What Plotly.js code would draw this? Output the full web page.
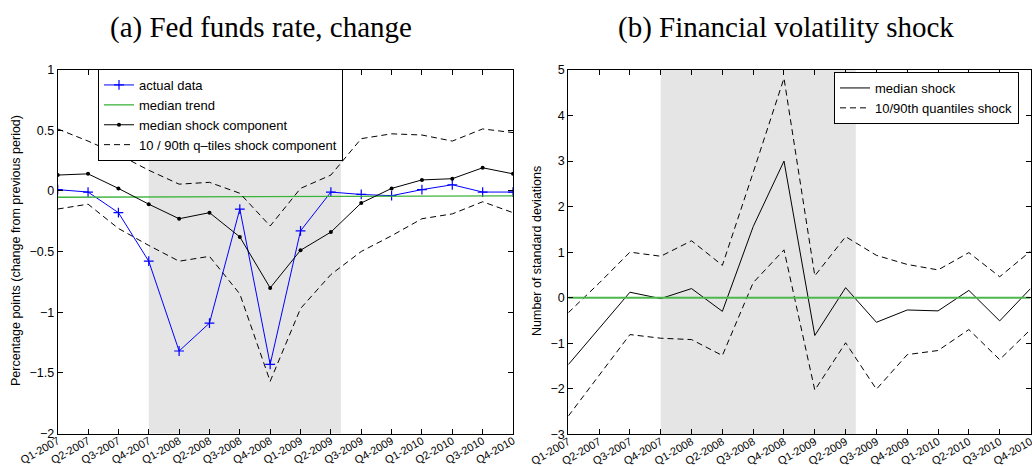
<!DOCTYPE html>
<html>
<head>
<meta charset="utf-8">
<script src="https://cdn.plot.ly/plotly-3.0.1.min.js"></script>
<style>html,body{margin:0;padding:0;background:#fff;}#chart{width:1032px;height:466px;}</style>
</head>
<body>
<div id="chart"></div>
<script>
// ---------- data ----------
var quarters = ["Q1-2007","Q2-2007","Q3-2007","Q4-2007","Q1-2008","Q2-2008","Q3-2008","Q4-2008",
                "Q1-2009","Q2-2009","Q3-2009","Q4-2009","Q1-2010","Q2-2010","Q3-2010","Q4-2010"];
var quarterIndex = [0,1,2,3,4,5,6,7,8,9,10,11,12,13,14,15];

// (a) Fed funds rate, change
var actualData   = [0.01,-0.01,-0.18,-0.58,-1.32,-1.09,-0.15,-1.43,-0.33,-0.01,-0.03,-0.04,0.01,0.05,-0.01,-0.01];
var medianTrend  = [-0.053,-0.052,-0.052,-0.051,-0.050,-0.050,-0.049,-0.048,-0.047,-0.047,-0.046,-0.045,-0.045,-0.044,-0.043,-0.042];
var medianShockA = [0.13,0.14,0.02,-0.11,-0.23,-0.18,-0.38,-0.80,-0.49,-0.34,-0.10,0.02,0.09,0.10,0.19,0.14];
var upperShockA  = [0.51,0.41,0.30,0.17,0.055,0.07,-0.02,-0.29,0.02,0.13,0.43,0.47,0.46,0.41,0.51,0.48];
var lowerShockA  = [-0.15,-0.11,-0.31,-0.45,-0.58,-0.54,-0.85,-1.57,-0.97,-0.69,-0.50,-0.37,-0.23,-0.19,-0.09,-0.18];

// (b) Financial volatility shock
var medianShockB = [-1.47,-0.68,0.12,-0.02,0.20,-0.30,1.56,3.00,-0.83,0.22,-0.54,-0.27,-0.29,0.16,-0.51,0.20];
var upperShockB  = [-0.33,0.32,1.00,0.91,1.25,0.71,2.75,4.82,0.48,1.34,0.93,0.73,0.61,0.99,0.46,1.02];
var lowerShockB  = [-2.60,-1.70,-0.81,-0.89,-0.92,-1.27,0.33,1.05,-2.03,-0.99,-2.01,-1.25,-1.16,-0.70,-1.36,-0.70];
var zeroTrendB   = [0,0,0,0,0,0,0,0,0,0,0,0,0,0,0,0];

var recessionStart = 3;
var recessionEnd = 9.33;

var yTicksA = [-2,-1.5,-1,-0.5,0,0.5,1];
var yTicksB = [-3,-2,-1,0,1,2,3,4,5];

// ---------- styling ----------
var W = 1032, H = 466;
function px(x){ return x / W; }
function py(y){ return 1 - y / H; }
var sans = "Liberation Sans, Arial, sans-serif";
var tickFont = {family: sans, size: 12.5, color: "#000"};
var dashPat = "6px,4px";
function minusLabel(v){ return v < 0 ? "\u2212" + Math.abs(v) : String(v); }

var traces = [
  {x: quarterIndex, y: actualData, xaxis: "x", yaxis: "y", name: "actual data", mode: "lines+markers",
   line: {color: "#0000ff", width: 1}, marker: {symbol: "cross-thin-open", size: 7, line: {color: "#0000ff", width: 1.2}},
   legend: "legend"},
  {x: quarterIndex, y: medianTrend, xaxis: "x", yaxis: "y", name: "median trend", mode: "lines",
   line: {color: "#3cb43c", width: 1.3}, legend: "legend"},
  {x: quarterIndex, y: medianShockA, xaxis: "x", yaxis: "y", name: "median shock component", mode: "lines+markers",
   line: {color: "#000", width: 1}, marker: {symbol: "circle", size: 4, color: "#000"}, legend: "legend"},
  {x: quarterIndex, y: upperShockA, xaxis: "x", yaxis: "y", name: "10 / 90th q\u2013tiles shock component", mode: "lines",
   line: {color: "#000", width: 1, dash: dashPat}, legend: "legend", legendgroup: "qa"},
  {x: quarterIndex, y: lowerShockA, xaxis: "x", yaxis: "y", name: "lower", mode: "lines",
   line: {color: "#000", width: 1, dash: dashPat}, showlegend: false, legendgroup: "qa"},

  {x: quarterIndex, y: medianShockB, xaxis: "x2", yaxis: "y2", name: "median shock", mode: "lines",
   line: {color: "#000", width: 1}, legend: "legend2"},
  {x: quarterIndex, y: upperShockB, xaxis: "x2", yaxis: "y2", name: "10/90th quantiles shock", mode: "lines",
   line: {color: "#000", width: 1, dash: dashPat}, legend: "legend2", legendgroup: "qb"},
  {x: quarterIndex, y: lowerShockB, xaxis: "x2", yaxis: "y2", name: "lowerB", mode: "lines",
   line: {color: "#000", width: 1, dash: dashPat}, showlegend: false, legendgroup: "qb"},
  {x: quarterIndex, y: zeroTrendB, xaxis: "x2", yaxis: "y2", name: "trendB", mode: "lines",
   line: {color: "#4cb84c", width: 2}, showlegend: false}
];

var xAxisBase = {
  range: [0, 15], tickvals: quarterIndex, ticktext: quarters, tickangle: -30,
  showline: true, linecolor: "#000", linewidth: 1, mirror: "allticks",
  ticks: "inside", ticklen: 5, tickcolor: "#000", showgrid: false, zeroline: false,
  ticklabeloverflow: "allow", ticklabelstandoff: -4,
  tickfont: {family: sans, size: 11, color: "#000"}, fixedrange: true
};
var yAxisBase = {
  showline: true, linecolor: "#000", linewidth: 1, mirror: "allticks",
  ticks: "inside", ticklen: 5, tickcolor: "#000", showgrid: false, zeroline: false,
  tickfont: tickFont, fixedrange: true
};

var legendBase = {xanchor: "left", yanchor: "top", bgcolor: "#fff",
  bordercolor: "#000", borderwidth: 1, font: {family: sans, size: 13, color: "#000"},
  itemwidth: 30, tracegroupgap: 0};

var layout = {
  width: W, height: H,
  margin: {l: 0, r: 0, t: 0, b: 0},
  paper_bgcolor: "#fff", plot_bgcolor: "rgba(0,0,0,0)",
  showlegend: true,
  xaxis: Object.assign({}, xAxisBase, {domain: [px(57.7), px(513)], anchor: "y"}),
  yaxis: Object.assign({}, yAxisBase, {domain: [py(433.5), py(69.5)], anchor: "x", range: [-2, 1],
          tickvals: yTicksA, ticktext: yTicksA.map(minusLabel)}),
  xaxis2: Object.assign({}, xAxisBase, {domain: [px(568.3), px(1030.5)], anchor: "y2"}),
  yaxis2: Object.assign({}, yAxisBase, {domain: [py(434.3), py(70)], anchor: "x2", range: [-3, 5],
          tickvals: yTicksB, ticktext: yTicksB.map(minusLabel)}),
  legend: Object.assign({}, legendBase, {x: px(98), y: py(69)}),
  legend2: Object.assign({}, legendBase, {x: px(834), y: py(72)}),
  shapes: [
    {type: "rect", xref: "x", yref: "y domain", x0: recessionStart, x1: recessionEnd, y0: 0, y1: 1,
     fillcolor: "#e5e5e5", line: {width: 0}, layer: "below"},
    {type: "rect", xref: "x2", yref: "y2 domain", x0: recessionStart, x1: recessionEnd, y0: 0, y1: 1,
     fillcolor: "#e5e5e5", line: {width: 0}, layer: "below"}
  ],
  annotations: [
    {text: "(a) Fed funds rate, change", xref: "paper", yref: "paper", x: px(261), y: py(28),
     xanchor: "center", yanchor: "middle", showarrow: false,
     font: {family: "Liberation Serif, Times New Roman, serif", size: 29, color: "#000"}},
    {text: "(b) Financial volatility shock", xref: "paper", yref: "paper", x: px(786), y: py(28),
     xanchor: "center", yanchor: "middle", showarrow: false,
     font: {family: "Liberation Serif, Times New Roman, serif", size: 29, color: "#000"}},
    {text: "Percentage points (change from previous period)", xref: "paper", yref: "paper", x: px(16), y: py(251),
     xanchor: "center", yanchor: "middle", textangle: -90, showarrow: false,
     font: {family: sans, size: 12.5, color: "#000"}},
    {text: "Number of standard deviations", xref: "paper", yref: "paper", x: px(537), y: py(251),
     xanchor: "center", yanchor: "middle", textangle: -90, showarrow: false,
     font: {family: sans, size: 12.5, color: "#000"}}
  ]
};

Plotly.newPlot("chart", traces, layout, {staticPlot: true, displayModeBar: false});
</script>
</body>
</html>
